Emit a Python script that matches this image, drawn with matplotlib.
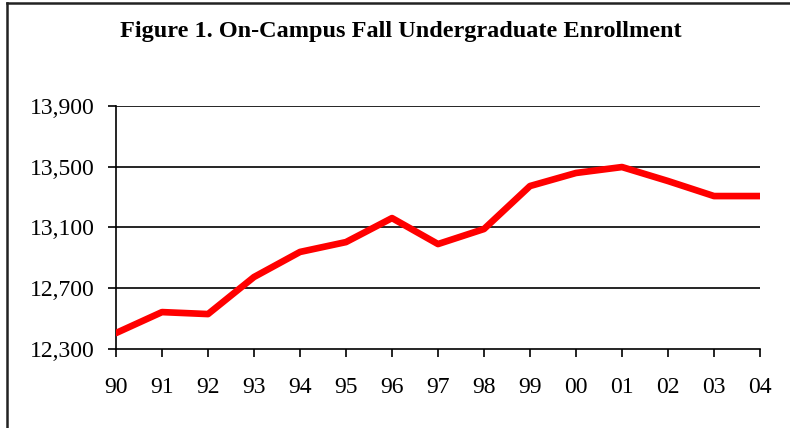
import matplotlib
matplotlib.use("Agg")
import matplotlib.pyplot as plt
from matplotlib.lines import Line2D

years = ["90", "91", "92", "93", "94", "95", "96", "97", "98", "99", "00", "01", "02", "03", "04"]
enrollment = [12405, 12543, 12530, 12774, 12939, 13004, 13162, 12991, 13090, 13373, 13459, 13498, 13406, 13307, 13307]
y_ticks = [12300, 12700, 13100, 13500, 13900]
title = "Figure 1. On-Campus Fall Undergraduate Enrollment"

plt.rcParams['font.family'] = ['Liberation Serif', 'DejaVu Serif']

fig = plt.figure(figsize=(7.9, 4.28), dpi=100)
ax = fig.add_axes([116/790, 1 - 349/428, (760-116)/790, (349-106)/428])

x = list(range(len(years)))
ax.plot(x, enrollment, color='#ff0000', lw=4.8, solid_capstyle='round', solid_joinstyle='round', zorder=3)

ax.set_xlim(0, len(years) - 1)
ax.set_ylim(y_ticks[0], y_ticks[-1])
ax.set_xticks(x)
ax.set_xticklabels(years)
ax.set_yticks(y_ticks)
ax.set_yticklabels([f"{v:,}" for v in y_ticks])
for v in y_ticks[1:]:
    ax.axhline(v, color='black', lw=1.2, zorder=1)

for s in ['top', 'right']:
    ax.spines[s].set_visible(False)
for s in ['left', 'bottom']:
    ax.spines[s].set_linewidth(1.2)
    ax.spines[s].set_color('black')
ax.tick_params(axis='both', direction='out', length=6, width=1.2, labelsize=17, colors='black')
ax.tick_params(axis='x', pad=14)
ax.tick_params(axis='y', pad=9)

fig.text(401/790, 1 - 31/428, title, ha='center', va='center', fontsize=17.5, fontweight='bold')

fig.add_artist(Line2D([6.5/790, 6.5/790], [0, 1 - 2.5/428], transform=fig.transFigure, color='#222222', lw=1.8))
fig.add_artist(Line2D([6.5/790, 1], [1 - 2.5/428, 1 - 2.5/428], transform=fig.transFigure, color='#222222', lw=1.8))

fig.savefig("out.png", dpi=100)
